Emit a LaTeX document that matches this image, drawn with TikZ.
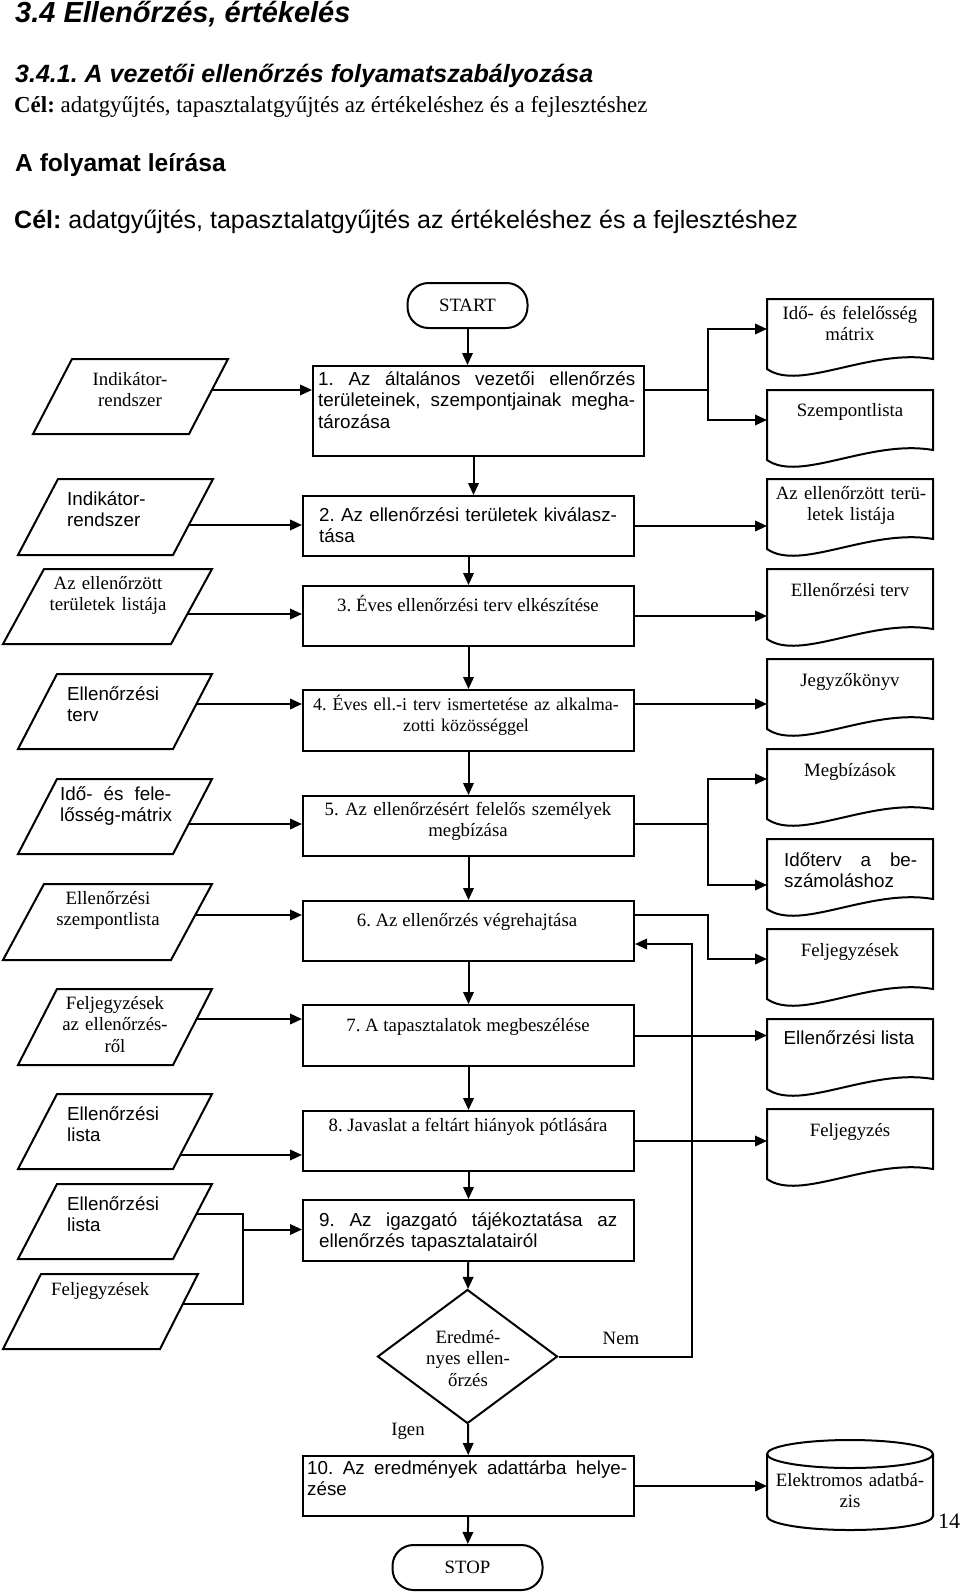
\documentclass[tikz,border=0pt]{standalone}
\usepackage{fontspec}
\setmainfont{Liberation Serif}
\setsansfont{Liberation Sans}
\usetikzlibrary{arrows.meta,calc,shapes.geometric}
\frenchspacing

\tikzset{
  ln/.style={line width=2pt},
  blank/.style={draw=none, inner sep=0pt, outer sep=0pt},
  box/.style={draw, ln, minimum width=331pt, minimum height=60pt, inner sep=0pt, anchor=north west},
  term/.style={draw, ln, rounded corners=21pt, minimum height=45pt, inner sep=0pt, font=\fontsize{18.8}{21.5}\selectfont},
  arr/.style={ln, -{Triangle[length=12pt,width=10.5pt]}},
  rmt/.style={font=\fontsize{18.8}{21.5}\selectfont, inner sep=0pt},
  sft/.style={font=\sffamily\fontsize{18.8}{21.5}\selectfont, inner sep=0pt},
  head/.style={anchor=base west, inner sep=0pt},
}

% parallelogram: name, x bottom-left, y top, edge width, skew, height
\newcommand\mkpara[6]{%
  \node[blank, minimum width={#4pt+#5pt}, minimum height=#6pt, anchor=north west] (#1) at (#2,#3) {};
  \draw[ln] ([xshift=#5pt]#1.north west) -- (#1.north east) -- ([xshift=-#5pt]#1.south east) -- (#1.south west) -- cycle;}

% document: name, x left, y top
\newcommand\mkdoc[3]{%
  \node[blank, minimum width=166pt, minimum height=60pt, anchor=north west] (#1) at (#2,#3) {};
  \draw[ln] ([yshift=-10pt]#1.south west) -- (#1.north west) -- (#1.north east) -- (#1.south east)
    .. controls ([xshift=-63pt,yshift=11pt]#1.south east) and ([xshift=33pt,yshift=-33pt]#1.south west) .. ([yshift=-10pt]#1.south west) -- cycle;}

\begin{document}
\begin{tikzpicture}[x=1pt,y=-1pt]
\path[fill=white] (0,0) rectangle (960,1592);
\useasboundingbox (0,0) rectangle (960,1592);

% headings
\node[head, font=\sffamily\bfseries\itshape\fontsize{29}{34}\selectfont] (h1) at (15,23) {3.4 Ellenőrzés, értékelés};
\node[head, font=\sffamily\bfseries\itshape\fontsize{25}{30}\selectfont] (h2) at (15,83) {3.4.1. A vezetői ellenőrzés folyamatszabályozása};
\node[head, font=\fontsize{22.9}{27}\selectfont] (h3) at (14,113) {\textbf{Cél:} adatgyűjtés, tapasztalatgyűjtés az értékeléshez és a fejlesztéshez};
\node[head, font=\sffamily\bfseries\fontsize{24.6}{29}\selectfont] (h4) at (15,171) {A folyamat leírása};
\node[head, font=\sffamily\fontsize{25}{30}\selectfont] (h5) at (14,228) {\textbf{Cél:} adatgyűjtés, tapasztalatgyűjtés az értékeléshez és a fejlesztéshez};

% terminals
\node[term, minimum width=120pt] (start) at (467.5,305.5) {START};
\node[term, minimum width=150pt] (stop) at (467.5,1567.5) {STOP};

% process boxes
\node[box, minimum height=90pt] (b1) at (312,365) {};
\node[box] (b2) at (302,495) {};
\node[box] (b3) at (302,585) {};
\node[box, minimum height=61pt] (b4) at (302,689) {};
\node[box] (b5) at (302,795) {};
\node[box] (b6) at (302,900) {};
\node[box, minimum height=61pt] (b7) at (302,1004) {};
\node[box] (b8) at (302,1110) {};
\node[box, minimum height=61pt] (b9) at (302,1199) {};
\node[box] (b10) at (302,1455) {};

\node[sft, anchor=base west, text width=319pt, align=left] (t1) at (318,385) {\makebox[317pt]{1.\hfill Az\hfill általános\hfill vezetői\hfill ellenőrzés}\\\makebox[317pt]{területeinek,\hfill szempontjainak\hfill megha-}\\tározása};
\node[sft, anchor=base west, text width=320pt, align=left] (t2) at (319,521) {2. Az ellenőrzési területek kiválasz-\\tása};
\node[rmt, anchor=base] (t3) at (468,611) {3. Éves ellenőrzési terv elkészítése};
\node[rmt, font=\fontsize{18}{21.5}\selectfont, anchor=base, text width=350pt, align=center] (t4) at (466,710) {4. Éves ell.-i terv ismertetése az alkalma-\\zotti közösséggel};
\node[rmt, anchor=base, text width=340pt, align=center] (t5) at (468,815) {5. Az ellenőrzésért felelős személyek\\megbízása};
\node[rmt, anchor=base] (t6) at (467,926) {6. Az ellenőrzés végrehajtása};
\node[rmt, anchor=base] (t7) at (468,1031) {7. A tapasztalatok megbeszélése};
\node[rmt, anchor=base] (t8) at (468,1131) {8. Javaslat a feltárt hiányok pótlására};
\node[sft, anchor=base west, text width=300pt, align=left] (t9) at (319,1226) {\makebox[298pt]{9.\hfill Az\hfill igazgató\hfill tájékoztatása\hfill az}\\ellenőrzés tapasztalatairól};
\node[sft, anchor=base west, text width=322pt, align=left] (t10) at (307,1474) {\makebox[320pt]{10.\hfill Az\hfill eredmények\hfill adattárba\hfill helye-}\\zése};

% decision
\node[diamond, draw, ln, minimum width=180pt, minimum height=134pt, inner sep=0pt] (dia) at (467.5,1356.5) {};
\node[rmt, anchor=base, text width=120pt, align=center] (tdia) at (468,1343) {Eredmé-\\nyes ellen-\\őrzés};
\node[rmt, anchor=base] (nem) at (621,1344) {Nem};
\node[rmt, anchor=base] (igen) at (408,1435) {Igen};

% input parallelograms
\mkpara{p1}{33}{359}{156}{39}{75}
\mkpara{p2}{18}{479}{155}{40}{76}
\mkpara{p3}{3}{569}{168}{41}{75}
\mkpara{p4}{18}{674}{155}{39}{75}
\mkpara{p5}{18}{779}{155}{39}{75}
\mkpara{p6}{3}{884}{168}{41}{76}
\mkpara{p7}{18}{989}{155}{39}{76}
\mkpara{p8}{18}{1094}{155}{39}{75}
\mkpara{p9}{18}{1184}{155}{39}{75}
\mkpara{p10}{3}{1274}{157}{38}{75}

\node[rmt, anchor=base, text width=150pt, align=center] (tp1) at (130,385) {Indikátor-\\rendszer};
\node[sft, anchor=base west, text width=120pt, align=left] (tp2) at (67,505) {Indikátor-\\rendszer};
\node[rmt, anchor=base, text width=160pt, align=center] (tp3) at (108,589) {Az ellenőrzött\\területek listája};
\node[sft, anchor=base west, text width=120pt, align=left] (tp4) at (67,700) {Ellenőrzési\\terv};
\node[sft, anchor=base west, text width=114pt, align=left] (tp5) at (60,800) {\makebox[111pt]{Idő-\hfill és\hfill fele-}\\lősség-mátrix};
\node[rmt, anchor=base, text width=150pt, align=center] (tp6) at (108,904) {Ellenőrzési\\szempontlista};
\node[rmt, anchor=base, text width=150pt, align=center] (tp7) at (115,1009) {Feljegyzések\\az ellenőrzés-\\ről};
\node[sft, anchor=base west, text width=120pt, align=left] (tp8) at (67,1120) {Ellenőrzési\\lista};
\node[sft, anchor=base west, text width=120pt, align=left] (tp9) at (67,1210) {Ellenőrzési\\lista};
\node[rmt, anchor=base west] (tp10) at (51,1295) {Feljegyzések};

% output documents
\mkdoc{d1}{767}{299}
\mkdoc{d2}{767}{390}
\mkdoc{d3}{767}{479}
\mkdoc{d4}{767}{569}
\mkdoc{d5}{767}{659}
\mkdoc{d6}{767}{749}
\mkdoc{d7}{767}{839}
\mkdoc{d8}{767}{929}
\mkdoc{d9}{767}{1019}
\mkdoc{d10}{767}{1109}

\node[rmt, anchor=base, text width=160pt, align=center] (td1) at (850,319) {Idő- és felelősség\\mátrix};
\node[rmt, anchor=base] (td2) at (850,416) {Szempontlista};
\node[rmt, anchor=base, text width=160pt, align=center] (td3) at (851,499) {Az ellenőrzött terü-\\letek listája};
\node[rmt, anchor=base] (td4) at (850,596) {Ellenőrzési terv};
\node[rmt, anchor=base] (td5) at (850,686) {Jegyzőkönyv};
\node[rmt, anchor=base] (td6) at (850,776) {Megbízások};
\node[sft, anchor=base west, text width=135pt, align=left] (td7) at (784,866) {\makebox[133pt]{Időterv\hfill a\hfill be-}\\számoláshoz};
\node[rmt, anchor=base] (td8) at (850,956) {Feljegyzések};
\node[sft, anchor=base] (td9) at (849,1044) {Ellenőrzési lista};
\node[rmt, anchor=base] (td10) at (850,1136) {Feljegyzés};

% database
\node[blank, minimum width=166pt, minimum height=90pt, anchor=north west] (cyl) at (767,1440) {};
\draw[ln] ([yshift=-14pt]cyl.north) ellipse [x radius=83pt, y radius=14pt];
\draw[ln] ([yshift=-14pt]cyl.north west) -- ([yshift=14pt]cyl.south west) arc[start angle=180, end angle=360, x radius=83pt, y radius=14pt] -- ([yshift=-14pt]cyl.north east);
\node[rmt, anchor=base, text width=160pt, align=center] (tcyl) at (850,1486) {Elektromos adatbá-\\zis};

\node[anchor=base west, inner sep=0pt, font=\fontsize{22}{26}\selectfont] (pg) at (938,1528) {14};

% connector points on parallelogram edges
\coordinate (p1o) at ($(p1.north east)!0.413!([xshift=-39pt]p1.south east)$);
\coordinate (p2o) at ($(p2.north east)!0.605!([xshift=-40pt]p2.south east)$);
\coordinate (p3o) at ($(p3.north east)!0.6!([xshift=-41pt]p3.south east)$);
\coordinate (p4o) at ($(p4.north east)!0.4!([xshift=-39pt]p4.south east)$);
\coordinate (p5o) at ($(p5.north east)!0.6!([xshift=-39pt]p5.south east)$);
\coordinate (p6o) at ($(p6.north east)!0.408!([xshift=-41pt]p6.south east)$);
\coordinate (p7o) at ($(p7.north east)!0.395!([xshift=-39pt]p7.south east)$);
\coordinate (p8o) at ($(p8.north east)!0.813!([xshift=-39pt]p8.south east)$);
\coordinate (p9o) at ($(p9.north east)!0.4!([xshift=-39pt]p9.south east)$);
\coordinate (p10o) at ($(p10.north east)!0.4!([xshift=-38pt]p10.south east)$);

% main flow
\draw[arr] (start) -- (start |- b1.north);
\draw[arr] ([xshift=5pt]b2.north |- b1.south) -- ([xshift=5pt]b2.north);
\draw[arr] (b2) -- (b3);
\draw[arr] (b3) -- (b4);
\draw[arr] (b4) -- (b5);
\draw[arr] (b5) -- (b6);
\draw[arr] (b6) -- (b7);
\draw[arr] (b7) -- (b8);
\draw[arr] (b8) -- (b9);
\draw[arr] (b9) -- (dia);
\draw[arr] (dia) -- (b10);
\draw[arr] (b10) -- (stop);

% inputs
\draw[arr] (p1o) -- (p1o -| b1.west);
\draw[arr] (p2o) -- (p2o -| b2.west);
\draw[arr] (p3o) -- (p3o -| b3.west);
\draw[arr] (p4o) -- (p4o -| b4.west);
\draw[arr] (p5o) -- (p5o -| b5.west);
\draw[arr] (p6o) -- (p6o -| b6.west);
\draw[arr] (p7o) -- (p7o -| b7.west);
\draw[arr] (p8o) -- (p8o -| b8.west);
\coordinate (j9) at (243,1229.5);
\draw[ln] (p9o) -| (p10o -| j9) -- (p10o);
\draw[arr] (j9) -- (j9 -| b9.west);

% outputs
\coordinate (j1) at (708,390);
\draw[ln] (b1.east |- j1) -- (j1);
\draw[arr] (j1) |- (d1.west);
\draw[arr] (j1) |- (d2.west);
\draw[arr] (b2) -- (b2 -| d3.west);
\draw[arr] (b3) -- (b3 -| d4.west);
\draw[arr] (b4.east |- p4o) -- (d5.west |- p4o);
\coordinate (j5) at (708,824);
\draw[ln] (b5.east |- j5) -- (j5);
\draw[arr] (j5) |- (d6.west);
\draw[arr] (j5) |- ([yshift=-16pt]d7.west);
\coordinate (j6) at (708,915);
\draw[arr] (b6.east |- j6) -- (j6) |- (d8.west);
\draw[arr] (b7) -- (b7 -| d9.west);
\draw[arr] (b8) -- (b8 -| d10.west);
\draw[arr] (b10) -- (b10 -| cyl.west);

% loop back (Nem)
\coordinate (k6) at (692,944);
\draw[arr] (dia.east) -| (k6) -- (k6 -| b6.east);
\end{tikzpicture}
\end{document}
